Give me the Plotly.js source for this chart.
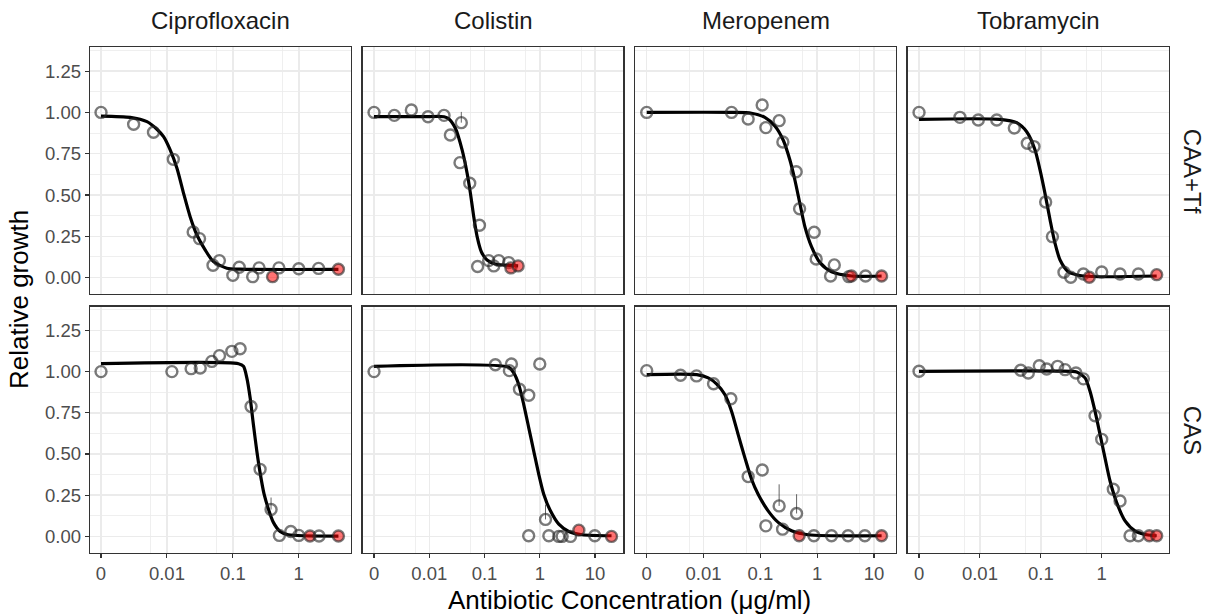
<!DOCTYPE html>
<html>
<head>
<meta charset="utf-8">
<script src="https://cdn.plot.ly/plotly-3.0.1.min.js"></script>
<style>html,body{margin:0;padding:0;background:#fff;}#chart{width:1210px;height:616px;}</style>
</head>
<body>
<div id="chart"></div>
<script>
// ---------- categories ----------
const drugs = ['Ciprofloxacin', 'Colistin', 'Meropenem', 'Tobramycin'];
const media = ['CAA+Tf', 'CAS'];

// ---------- tick labels ----------
const yTickVals = [0, 0.25, 0.5, 0.75, 1, 1.25];
const yTickText = ['0.00', '0.25', '0.50', '0.75', '1.00', '1.25'];
const xTickVals4 = [0, 0.01, 0.1, 1];
const xTickText4 = ['0', '0.01', '0.1', '1'];
const xTickVals5 = [0, 0.01, 0.1, 1, 10];
const xTickText5 = ['0', '0.01', '0.1', '1', '10'];

// ---------- observed points (conc in µg/ml, relative growth, MIC flag, upper error) ----------
const cipro_caa_conc   = [0, 0.003125, 0.00625, 0.0125, 0.025, 0.03125, 0.05, 0.0625, 0.1, 0.125, 0.2, 0.25, 0.4, 0.5, 1, 2, 4];
const cipro_caa_growth = [1.0, 0.928, 0.88, 0.716, 0.276, 0.236, 0.075, 0.103, 0.014, 0.063, 0.006, 0.059, 0.006, 0.059, 0.054, 0.056, 0.051];
const cipro_caa_mic    = [0,0,0,0,0,0,0,0,0,0,0,0,1,0,0,0,1];
const cipro_caa_err    = [0,0,0,0,0,0,0,0,0,0,0,0,0,0,0,0,0];

const coli_caa_conc   = [0, 0.00233, 0.00474, 0.0095, 0.0185, 0.038, 0.0241, 0.036, 0.054, 0.081, 0.075, 0.119, 0.147, 0.181, 0.274, 0.3, 0.406];
const coli_caa_growth = [1.0, 0.982, 1.015, 0.974, 0.982, 0.938, 0.863, 0.696, 0.571, 0.317, 0.067, 0.103, 0.071, 0.103, 0.091, 0.059, 0.071];
const coli_caa_mic    = [0,0,0,0,0,0,0,0,0,0,0,0,0,0,0,1,1];
const coli_caa_err    = [0,0,0,0,0,0.065,0,0,0,0,0,0,0,0,0,0,0];

const mero_caa_conc   = [0, 0.0311, 0.061, 0.1076, 0.125, 0.214, 0.249, 0.427, 0.49, 0.885, 0.96, 2.0, 1.72, 3.6, 4.0, 7.1, 13.6];
const mero_caa_growth = [1.0, 1.0, 0.96, 1.045, 0.908, 0.95, 0.821, 0.641, 0.417, 0.275, 0.113, 0.077, 0.01, 0.006, 0.01, 0.01, 0.01];
const mero_caa_mic    = [0,0,0,0,0,0,0,0,0,0,0,0,0,0,1,0,1];
const mero_caa_err    = [0,0,0,0,0,0,0,0,0,0,0,0,0,0,0,0,0];

const tobra_caa_conc   = [0, 0.0047, 0.0094, 0.0189, 0.0367, 0.06, 0.0773, 0.12, 0.155, 0.24, 0.31, 0.5, 0.625, 1, 2, 4, 8];
const tobra_caa_growth = [1.0, 0.97, 0.954, 0.954, 0.906, 0.813, 0.793, 0.458, 0.248, 0.033, 0.002, 0.022, 0.002, 0.034, 0.022, 0.022, 0.018];
const tobra_caa_mic    = [0,0,0,0,0,0,0,0,0,0,0,0,1,0,0,0,1];
const tobra_caa_err    = [0,0,0,0,0,0,0,0,0,0,0,0,0,0,0,0,0];

const cipro_cas_conc   = [0, 0.0119, 0.0233, 0.032, 0.048, 0.0627, 0.0966, 0.129, 0.189, 0.259, 0.38, 0.508, 0.757, 1.0, 1.48, 2.03, 4.0];
const cipro_cas_growth = [1.0, 1.0, 1.018, 1.022, 1.062, 1.097, 1.123, 1.139, 0.788, 0.407, 0.163, 0.006, 0.03, 0.006, 0.002, 0.002, 0.002];
const cipro_cas_mic    = [0,0,0,0,0,0,0,0,0,0,0,0,0,0,1,0,1];
const cipro_cas_err    = [0,0,0,0,0,0,0,0,0,0,0.073,0,0,0,0,0,0];

const coli_cas_conc   = [0, 0.157, 0.307, 0.282, 0.429, 0.632, 1.0, 0.63, 1.27, 1.46, 2.21, 2.54, 3.6, 5.1, 9.9, 19.9];
const coli_cas_growth = [1.0, 1.042, 1.046, 1.006, 0.893, 0.857, 1.046, 0.004, 0.103, 0.004, 0.0, 0.0, 0.0, 0.038, 0.004, 0.0];
const coli_cas_mic    = [0,0,0,0,0,0,0,0,0,0,0,0,0,1,0,1];
const coli_cas_err    = [0,0,0,0,0,0,0,0,0.09,0,0,0,0,0,0,0];

const mero_cas_conc   = [0, 0.00394, 0.00753, 0.015, 0.0303, 0.061, 0.108, 0.214, 0.125, 0.246, 0.434, 0.482, 0.875, 1.79, 3.5, 6.9, 13.6];
const mero_cas_growth = [1.006, 0.978, 0.974, 0.926, 0.835, 0.363, 0.403, 0.185, 0.064, 0.044, 0.139, 0.004, 0.004, 0.004, 0.004, 0.004, 0.004];
const mero_cas_mic    = [0,0,0,0,0,0,0,0,0,0,0,1,0,0,0,0,1];
const mero_cas_err    = [0,0,0,0,0,0,0,0.131,0,0,0.117,0,0,0,0,0,0];

const tobra_cas_conc   = [0, 0.0468, 0.0623, 0.0944, 0.125, 0.189, 0.25, 0.378, 0.5, 0.776, 1.0, 1.55, 2.0, 2.92, 4.0, 6.05, 8.0];
const tobra_cas_growth = [1.002, 1.008, 0.992, 1.036, 1.016, 1.032, 1.012, 0.992, 0.956, 0.732, 0.589, 0.286, 0.215, 0.004, 0.004, 0.004, 0.004];
const tobra_cas_mic    = [0,0,0,0,0,0,0,0,0,0,0,0,0,0,0,1,1];
const tobra_cas_err    = [0,0,0,0,0,0,0,0,0,0,0,0,0,0,0,0,0];

// ---------- fitted dose-response curves ----------
const cipro_caa_fitx = [0, 0.00278, 0.00498, 0.00705, 0.00889, 0.0112, 0.0142, 0.0179, 0.0225, 0.0285, 0.038, 0.0508, 0.0811, 0.129, 4];
const cipro_caa_fity = [0.978, 0.970, 0.944, 0.898, 0.853, 0.773, 0.662, 0.51, 0.369, 0.258, 0.168, 0.097, 0.057, 0.051, 0.05];
const coli_caa_fitx  = [0, 0.01, 0.0185, 0.0225, 0.0297, 0.0393, 0.0484, 0.0556, 0.0638, 0.0735, 0.0879, 0.111, 0.157, 0.406];
const coli_caa_fity  = [0.975, 0.975, 0.974, 0.962, 0.904, 0.773, 0.632, 0.51, 0.369, 0.248, 0.155, 0.107, 0.083, 0.071];
const mero_caa_fitx  = [0, 0.0316, 0.07, 0.12, 0.18, 0.252, 0.331, 0.405, 0.495, 0.607, 0.794, 1.12, 1.79, 4.04, 13.6];
const mero_caa_fity  = [1.0, 1.0, 0.995, 0.97, 0.918, 0.833, 0.712, 0.591, 0.45, 0.309, 0.188, 0.091, 0.036, 0.01, 0.01];
const tobra_caa_fitx = [0, 0.0214, 0.0402, 0.0586, 0.0804, 0.097, 0.117, 0.142, 0.171, 0.207, 0.283, 0.499, 8];
const tobra_caa_fity = [0.958, 0.958, 0.938, 0.883, 0.773, 0.652, 0.51, 0.349, 0.208, 0.107, 0.036, 0.01, 0.01];
const cipro_cas_fitx = [0, 0.122, 0.145, 0.163, 0.183, 0.205, 0.231, 0.259, 0.298, 0.347, 0.412, 0.521, 0.695, 4];
const cipro_cas_fity = [1.048, 1.048, 1.032, 0.962, 0.841, 0.679, 0.518, 0.387, 0.256, 0.165, 0.085, 0.03, 0.01, 0.002];
const coli_cas_fitx  = [0, 0.275, 0.338, 0.417, 0.513, 0.632, 0.778, 0.959, 1.18, 1.56, 2.21, 3.35, 5.86, 19.9];
const coli_cas_fity  = [1.032, 1.026, 0.992, 0.921, 0.8, 0.659, 0.518, 0.377, 0.256, 0.155, 0.074, 0.03, 0.01, 0.004];
const mero_cas_fitx  = [0, 0.00759, 0.0121, 0.0169, 0.0237, 0.0311, 0.0406, 0.0533, 0.07, 0.0914, 0.137, 0.206, 0.354, 0.695, 13.6];
const mero_cas_fity  = [0.982, 0.982, 0.962, 0.926, 0.861, 0.76, 0.619, 0.478, 0.347, 0.256, 0.155, 0.085, 0.034, 0.01, 0.004];
const tobra_cas_fitx = [0, 0.316, 0.388, 0.532, 0.643, 0.776, 0.938, 1.13, 1.37, 1.76, 2.42, 3.52, 5.48, 8];
const tobra_cas_fity = [1.002, 1.002, 0.998, 0.962, 0.881, 0.76, 0.619, 0.478, 0.336, 0.206, 0.094, 0.034, 0.01, 0.004];

// ---------- assemble panels ----------
const panels = [
  {pc: cipro_caa_conc, pg: cipro_caa_growth, pm: cipro_caa_mic, pe: cipro_caa_err, fx: cipro_caa_fitx, fy: cipro_caa_fity},
  {pc: coli_caa_conc,  pg: coli_caa_growth,  pm: coli_caa_mic,  pe: coli_caa_err,  fx: coli_caa_fitx,  fy: coli_caa_fity},
  {pc: mero_caa_conc,  pg: mero_caa_growth,  pm: mero_caa_mic,  pe: mero_caa_err,  fx: mero_caa_fitx,  fy: mero_caa_fity},
  {pc: tobra_caa_conc, pg: tobra_caa_growth, pm: tobra_caa_mic, pe: tobra_caa_err, fx: tobra_caa_fitx, fy: tobra_caa_fity},
  {pc: cipro_cas_conc, pg: cipro_cas_growth, pm: cipro_cas_mic, pe: cipro_cas_err, fx: cipro_cas_fitx, fy: cipro_cas_fity},
  {pc: coli_cas_conc,  pg: coli_cas_growth,  pm: coli_cas_mic,  pe: coli_cas_err,  fx: coli_cas_fitx,  fy: coli_cas_fity},
  {pc: mero_cas_conc,  pg: mero_cas_growth,  pm: mero_cas_mic,  pe: mero_cas_err,  fx: mero_cas_fitx,  fy: mero_cas_fity},
  {pc: tobra_cas_conc, pg: tobra_cas_growth, pm: tobra_cas_mic, pe: tobra_cas_err, fx: tobra_cas_fitx, fy: tobra_cas_fity}
];

// "0" is drawn one decade below 0.01 on the log axis
const ZERO_POS = 0.001;
const toPos = c => (c === 0 ? ZERO_POS : c);

const W = 1210, H = 616;
const colPx = [[90, 350.7], [362.7, 623.3], [635, 896], [907.7, 1169]];
const rowPx = [[47.3, 294], [306.7, 552.7]];
const colRange = [[-3.167, 0.788], [-3.205, 1.512], [-3.206, 1.387], [-3.186, 1.105]];
const colTicks = [[xTickVals4, xTickText4], [xTickVals5, xTickText5], [xTickVals5, xTickText5], [xTickVals4, xTickText4]];
const colMinor = [[-2.25, -1.25, -0.25], [-2.25, -1.25, -0.25, 0.75], [-2.25, -1.25, -0.25, 0.75], [-2.25, -1.25, -0.25]];

const FONT = 'Liberation Sans, Arial, Helvetica, sans-serif';
const GRID = '#EBEBEB';
const BORDER = '#333333';

const traces = [];
const layout = {
  width: W, height: H,
  margin: {l: 0, r: 0, t: 0, b: 0},
  paper_bgcolor: '#ffffff', plot_bgcolor: '#ffffff',
  showlegend: false,
  font: {family: FONT, color: '#000'},
  annotations: []
};

panels.forEach((p, i) => {
  const r = Math.floor(i / 4), c = i % 4, n = i + 1;
  const xs = n === 1 ? '' : String(n);
  const xa = 'x' + xs, ya = 'y' + xs;

  traces.push({
    x: p.fx.map(toPos), y: p.fy, xaxis: xa, yaxis: ya,
    mode: 'lines', line: {color: '#000', width: 3.2, shape: 'spline', smoothing: 0.7},
    hoverinfo: 'skip'
  });
  traces.push({
    x: p.pc.map(toPos), y: p.pg, xaxis: xa, yaxis: ya,
    mode: 'markers',
    marker: {
      size: 11, symbol: 'circle',
      color: p.pm.map(f => f ? 'rgba(255,0,0,0.55)' : 'rgba(0,0,0,0)'),
      line: {color: 'rgba(40,40,40,0.62)', width: 2.4}
    },
    error_y: {type: 'data', symmetric: false, array: p.pe, arrayminus: p.pe.map(() => 0),
              color: 'rgba(50,50,50,0.75)', thickness: 1, width: 0}
  });

  const bottom = r === 1, left = c === 0;
  layout['xaxis' + xs] = {
    type: 'log', range: colRange[c],
    domain: [colPx[c][0] / W, colPx[c][1] / W],
    anchor: ya,
    tickmode: 'array', tickvals: colTicks[c][0].map(toPos), ticktext: colTicks[c][1],
    showticklabels: bottom, ticks: bottom ? 'outside' : '', ticklen: 4, tickwidth: 1.1, tickcolor: BORDER,
    tickfont: {size: 18.5, color: '#4D4D4D', family: FONT},
    showgrid: true, gridcolor: GRID, gridwidth: 1.5,
    minor: {tickmode: 'array', tickvals: colMinor[c].map(u => Math.pow(10, u)), showgrid: true, gridcolor: GRID, gridwidth: 0.8, ticks: ''},
    showline: true, mirror: true, linecolor: BORDER, linewidth: 1.3,
    zeroline: false, fixedrange: true
  };
  layout['yaxis' + xs] = {
    range: [-0.099, 1.394],
    domain: [(H - rowPx[r][1]) / H, (H - rowPx[r][0]) / H],
    anchor: xa,
    tickmode: 'array', tickvals: yTickVals, ticktext: yTickText,
    showticklabels: left, ticks: left ? 'outside' : '', ticklen: 4, tickwidth: 1.1, tickcolor: BORDER,
    tickfont: {size: 18.5, color: '#4D4D4D', family: FONT},
    showgrid: true, gridcolor: GRID, gridwidth: 1.5,
    minor: {tickmode: 'array', tickvals: [0.125, 0.375, 0.625, 0.875, 1.125, 1.375], showgrid: true, gridcolor: GRID, gridwidth: 0.8, ticks: ''},
    showline: true, mirror: true, linecolor: BORDER, linewidth: 1.3,
    zeroline: false, fixedrange: true
  };
});

// strip labels (top)
drugs.forEach((d, c) => {
  layout.annotations.push({
    text: d, xref: 'paper', yref: 'paper',
    x: (colPx[c][0] + colPx[c][1]) / 2 / W, y: (H - 21) / H,
    xanchor: 'center', yanchor: 'middle', showarrow: false,
    font: {size: 24, color: '#1A1A1A', family: FONT}
  });
});
// strip labels (right)
media.forEach((m, r) => {
  layout.annotations.push({
    text: m, xref: 'paper', yref: 'paper',
    x: 1192 / W, y: (H - (rowPx[r][0] + rowPx[r][1]) / 2) / H,
    xanchor: 'center', yanchor: 'middle', showarrow: false, textangle: 90,
    font: {size: 24, color: '#1A1A1A', family: FONT}
  });
});
// axis titles
layout.annotations.push({
  text: 'Relative growth', xref: 'paper', yref: 'paper',
  x: 19 / W, y: (H - 300) / H, xanchor: 'center', yanchor: 'middle',
  showarrow: false, textangle: -90, font: {size: 26, color: '#000', family: FONT}
});
layout.annotations.push({
  text: 'Antibiotic Concentration (μg/ml)', xref: 'paper', yref: 'paper',
  x: 629.5 / W, y: (H - 600) / H, xanchor: 'center', yanchor: 'middle',
  showarrow: false, font: {size: 26, color: '#000', family: FONT}
});

Plotly.newPlot('chart', traces, layout, {staticPlot: true, displayModeBar: false});
</script>
</body>
</html>
